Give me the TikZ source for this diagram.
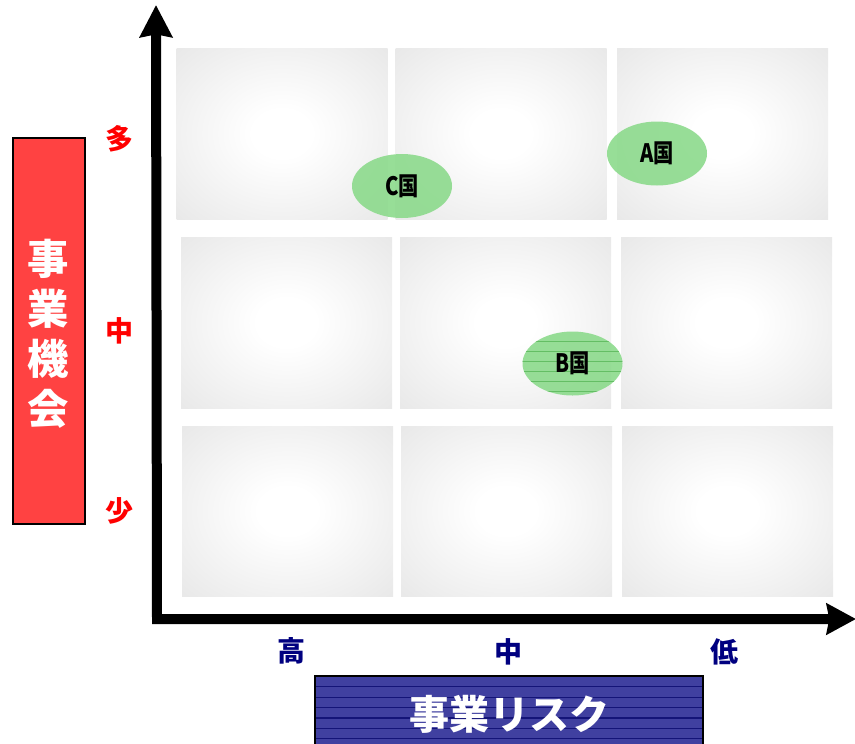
\documentclass[tikz,border=0pt]{standalone}
\usepackage{fontspec}
\newfontfamily\jp{Noto Sans CJK JP}
\newfontfamily\jpc{Noto Sans CJK JP}[FakeStretch=0.8]
\usetikzlibrary{shapes.geometric,arrows.meta}
\definecolor{cellgray}{RGB}{232,232,232}
\definecolor{oppred}{RGB}{255,66,66}
\definecolor{riskblue}{RGB}{64,64,160}
\definecolor{riskline}{RGB}{20,20,120}
\definecolor{blobgreen}{RGB}{140,218,140}
\definecolor{blobline}{RGB}{100,190,100}
\definecolor{navylbl}{RGB}{0,0,128}
\pgfdeclareradialshading{cellshade}{\pgfpoint{0bp}{0bp}}{color(0bp)=(white); color(7bp)=(white); color(36bp)=(cellgray); color(50bp)=(cellgray)}
\tikzset{
  cell/.style={shading=cellshade, minimum width=158.25pt, minimum height=128.25pt, inner sep=0pt},
  blob/.style={ellipse, fill=blobgreen, fill opacity=0.9, text opacity=1, minimum width=75pt, minimum height=48pt, inner sep=0pt, font=\jpc\bfseries\fontsize{19}{19}\selectfont},
  redlbl/.style={text=red, font=\jp\bfseries\fontsize{21}{21}\selectfont},
  navlbl/.style={text=navylbl, font=\jp\bfseries\fontsize{21}{21}\selectfont},
  axis/.style={line width=7.5pt, line join=miter, {Stealth[length=24pt, width=24pt, inset=2pt]}-{Stealth[length=22pt, width=23pt, inset=2pt]}}
}
\begin{document}
\begin{tikzpicture}[x=0.75pt, y=-0.75pt]
\useasboundingbox (0,0) rectangle (855,743);
\clip (0,0) rectangle (855,743);
% grid cells
\node[cell] (c11) at (282,133.5) {};
\node[cell] (c12) at (501,133.5) {};
\node[cell] (c13) at (722.5,133.5) {};
\node[cell] (c21) at (286.5,322.5) {};
\node[cell] (c22) at (505.5,322.5) {};
\node[cell] (c23) at (726.5,322.5) {};
\node[cell, minimum height=127.5pt] (c31) at (287.5,511) {};
\node[cell, minimum height=127.5pt] (c32) at (506.5,511) {};
\node[cell, minimum height=127.5pt] (c33) at (727.5,511) {};
% axes
\coordinate (ytop) at (156,5);
\coordinate (origin) at (157,619);
\coordinate (xend) at (856,619);
\draw[axis] (ytop) -- (origin) -- (xend);
% country blobs
\node[blob] (A) at (657,153.5) {A国};
\node[blob] (C) at (402,186) {C国};
\node[blob] (B) at (572.5,363.5) {};
\begin{scope}
  \clip (572.5,363.5) ellipse [x radius=37.5pt, y radius=24pt];
  \foreach \yy in {341.7,351.7,361.7,371.7,381.7,391.7}
    \draw[blobline, line width=0.8pt] (520,\yy) -- (625,\yy);
\end{scope}
\node[font=\jpc\bfseries\fontsize{19}{19}\selectfont] (Btxt) at (B.center) {B国};
% vertical label box
\node[draw=black, line width=1.5pt, fill=oppred, minimum width=54pt, minimum height=290pt, inner sep=0pt] (oppbox) at (48.5,331) {};
\node[text=white, font=\jp\bfseries\fontsize{31}{37.5}\selectfont, align=center] (opptxt) at (48.5,334) {事\\業\\機\\会};
\node[redlbl] (many) at (119,139) {多};
\node[redlbl] (mid) at (119,331) {中};
\node[redlbl] (few) at (119,511) {少};
% horizontal labels
\node[navlbl] (high) at (291,651) {高};
\node[navlbl] (hmid) at (508,652) {中};
\node[navlbl] (low) at (724,652) {低};
% risk box
\node[fill=riskblue, minimum width=291pt, minimum height=63pt, inner sep=0pt] (riskbox) at (509,718) {};
\begin{scope}
  \clip (315,676) rectangle (703,760);
  \foreach \yy in {686.7,697.1,707.5,717.9,728.3,738.7}
    \draw[riskline, line width=0.9pt] (315,\yy) -- (703,\yy);
\end{scope}
\draw[line width=1.5pt] (riskbox.south west) -- (riskbox.north west) -- (riskbox.north east) -- (riskbox.south east);
\node[text=white, font=\jp\bfseries\fontsize{30}{30}\selectfont] (risktxt) at (509,714) {事業リスク};
\end{tikzpicture}
\end{document}
